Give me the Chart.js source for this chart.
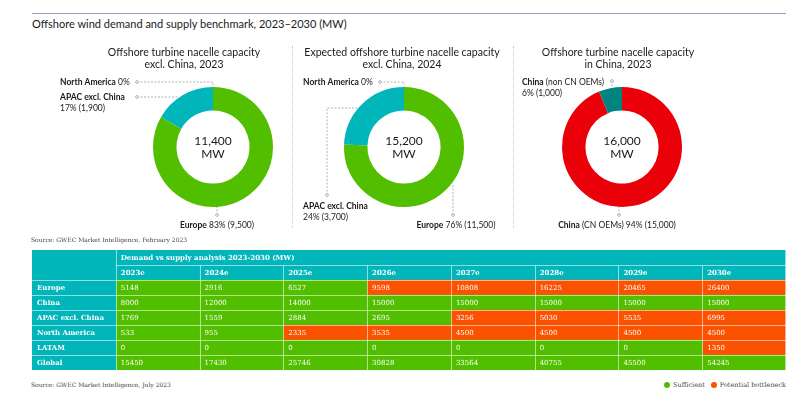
<!DOCTYPE html>
<html>
<head>
<meta charset="utf-8">
<script src="https://cdn.jsdelivr.net/npm/chart.js@4.4.1/dist/chart.umd.min.js"></script>
<style>
  body { margin: 0; width: 806px; height: 409px; background: #fff; position: relative; overflow: hidden; font-family: Lato, sans-serif; color: #1a1a1a; }
  .abs { position: absolute; }
  #topline { left: 32px; top: 13px; width: 754px; height: 1px; background: #8ea3b5; }
  #title { left: 32px; top: 17px; font-size: 11px; white-space: nowrap; }
  .sep { top: 46px; height: 182px; width: 0; border-left: 1px dotted #c9c9c9; }
  .src { font-family: 'DejaVu Serif', serif; font-size: 6px; color: #444; white-space: nowrap; }
  #legend { right: 20px; top: 381px; font-size: 6.5px; }
  #legend span.dot { display: inline-block; width: 6px; height: 6px; border-radius: 50%; margin: 0 3px 0 6px; vertical-align: -0.5px; }
  canvas { position: absolute; }
</style>
</head>
<body>
<div id="topline" class="abs"></div>
<div id="title" class="abs">Offshore wind demand and supply benchmark, 2023–2030 (MW)</div>
<div class="abs sep" style="left:292px"></div>
<div class="abs sep" style="left:513px"></div>

<canvas id="pie1" width="806" height="240" style="left:0;top:0"></canvas>
<canvas id="pie2" width="806" height="240" style="left:0;top:0"></canvas>
<canvas id="pie3" width="806" height="240" style="left:0;top:0"></canvas>

<div class="abs src" style="left:31px;top:236px">Source: GWEC Market Intelligence, February 2023</div>

<canvas id="table" width="754" height="120" style="left:32px;top:250px"></canvas>

<div class="abs src" style="left:31px;top:381px">Source: GWEC Market Intelligence, July 2023</div>
<div id="legend" class="abs src"><span class="dot" style="background:#52be00"></span>Sufficient<span class="dot" style="background:#fa5200"></span>Potential bottleneck</div>

<script>
// doughnut data
const exclChinaRegions = ['Europe', 'APAC excl. China', 'North America'];
const capacity2023 = [9500, 1900, 0];
const capacity2024 = [11500, 3700, 0];
const chinaOems = ['China (CN OEMs)', 'China (non CN OEMs)'];
const chinaCapacity2023 = [15000, 1000];

// table data
const tableYears = ['2023e', '2024e', '2025e', '2026e', '2027e', '2028e', '2029e', '2030e'];
const tableRegions = ['Europe', 'China', 'APAC excl. China', 'North America', 'LATAM', 'Global'];
const europeMW = [5148, 2916, 6527, 9598, 10808, 16225, 20465, 26400];
const chinaMW = [8000, 12000, 14000, 15000, 15000, 15000, 15000, 15000];
const apacMW = [1769, 1559, 2884, 2695, 3256, 5030, 5535, 6995];
const northAmericaMW = [533, 955, 2335, 3535, 4500, 4500, 4500, 4500];
const latamMW = [0, 0, 0, 0, 0, 0, 0, 1350];
const globalMW = [15450, 17430, 25746, 30828, 33564, 40755, 45500, 54245];
// S = sufficient, B = potential bottleneck
const europeStatus = ['S', 'S', 'S', 'B', 'B', 'B', 'B', 'B'];
const chinaStatus = ['S', 'S', 'S', 'S', 'S', 'S', 'S', 'S'];
const apacStatus = ['S', 'S', 'S', 'S', 'B', 'B', 'B', 'B'];
const northAmericaStatus = ['S', 'S', 'B', 'B', 'B', 'B', 'B', 'B'];
const latamStatus = ['S', 'S', 'S', 'S', 'S', 'S', 'S', 'B'];
const globalStatus = ['S', 'S', 'S', 'S', 'S', 'S', 'S', 'S'];

const GREEN = '#52be00', TEAL = '#00b6ba', ORANGE = '#fa5200', RED = '#ea0008', DARKTEAL = '#00847f';

const fmt = n => n.toLocaleString('en-US');

// draws a line of [text, bold] pieces
function drawPieces(ctx, pieces, x, y, align) {
  const fontFor = b => (b ? 'bold ' : '') + '8.5px Lato';
  let w = 0;
  pieces.forEach(p => { ctx.font = fontFor(p[1]); w += ctx.measureText(p[0]).width; });
  let cx = align === 'center' ? x - w / 2 : x;
  ctx.textAlign = 'left';
  pieces.forEach(p => {
    ctx.font = fontFor(p[1]);
    ctx.fillText(p[0], cx, y);
    cx += ctx.measureText(p[0]).width;
  });
}

const calloutPlugin = {
  id: 'callouts',
  afterDraw(chart, args, opts) {
    const ctx = chart.ctx;
    const arc = chart.getDatasetMeta(0).data[0];
    const values = chart.data.datasets[0].data;
    const names = chart.data.labels;
    const total = values.reduce((a, b) => a + b, 0);
    ctx.save();
    ctx.fillStyle = '#1a1a1a';
    ctx.textBaseline = 'middle';
    ctx.textAlign = 'center';
    ctx.font = '12px Lato';
    ctx.fillText(fmt(total), arc.x, arc.y - 6);
    ctx.fillText('MW', arc.x, arc.y + 7);
    ctx.font = '10.5px Lato';
    opts.title.forEach((t, i) => ctx.fillText(t, opts.titleX, 53 + i * 12));

    opts.items.forEach(it => {
      const v = values[it.index];
      const pct = Math.round(v / total * 100) + '%';
      const valText = v ? pct + ' (' + fmt(v) + ')' : pct;
      let lines;
      if (it.split) lines = [[[names[it.index], true]], [[valText, false]]];
      else if (it.boldWord) {
        const rest = names[it.index].slice(it.boldWord.length);
        lines = it.twoLine
          ? [[[it.boldWord, true], [rest, false]], [[valText, false]]]
          : [[[it.boldWord, true], [rest + ' ' + valText, false]]];
      } else lines = [[[names[it.index], true], [' ' + valText, false]]];
      ctx.fillStyle = '#1a1a1a';
      lines.forEach((ln, i) => drawPieces(ctx, ln, it.x, it.y + i * 11, it.align));

      ctx.strokeStyle = '#a0a0a0';
      ctx.lineWidth = 0.8;
      ctx.setLineDash([2, 1.5]);
      ctx.beginPath();
      it.path.forEach(([x, y], k) => k ? ctx.lineTo(x, y) : ctx.moveTo(x, y));
      ctx.stroke();
      ctx.setLineDash([]);
      ctx.beginPath();
      ctx.arc(it.path[0][0], it.path[0][1], 1.4, 0, Math.PI * 2);
      ctx.fillStyle = '#fff';
      ctx.fill();
      ctx.stroke();
    });
    ctx.restore();
  }
};

function makeDoughnut(id, labels, values, colors, cx, callouts) {
  const r = 60;
  return new Chart(document.getElementById(id), {
    type: 'doughnut',
    data: { labels: labels, datasets: [{ data: values, backgroundColor: colors, borderWidth: 0 }] },
    options: {
      responsive: false,
      animation: false,
      cutout: '61%',
      layout: { padding: { left: cx - r, right: 806 - cx - r, top: 147 - r, bottom: 240 - 147 - r } },
      plugins: { legend: { display: false }, tooltip: { enabled: false }, callouts: callouts }
    },
    plugins: [calloutPlugin]
  });
}

makeDoughnut('pie1', exclChinaRegions, capacity2023, [GREEN, TEAL, '#7a7a7a'], 213, {
  title: ['Offshore turbine nacelle capacity', 'excl. China, 2023'], titleX: 184,
  items: [
    { index: 2, x: 60, y: 82, align: 'left', path: [[137, 82], [213, 82], [213, 87]] },
    { index: 1, x: 60, y: 97, align: 'left', split: true, path: [[137, 97], [178, 97]] },
    { index: 0, x: 217, y: 225, align: 'center', path: [[217, 215], [217, 207]] }
  ]
});

makeDoughnut('pie2', exclChinaRegions, capacity2024, [GREEN, TEAL, '#7a7a7a'], 404, {
  title: ['Expected offshore turbine nacelle capacity', 'excl. China, 2024'], titleX: 402,
  items: [
    { index: 2, x: 303, y: 82, align: 'left', path: [[380, 82], [404, 82], [404, 87]] },
    { index: 1, x: 303, y: 206, align: 'left', split: true, path: [[327, 195], [327, 108], [358, 108]] },
    { index: 0, x: 456, y: 225, align: 'center', path: [[453, 215], [453, 183]] }
  ]
});

makeDoughnut('pie3', chinaOems, chinaCapacity2023, [RED, DARKTEAL], 622, {
  title: ['Offshore turbine nacelle capacity', 'in China, 2023'], titleX: 618,
  items: [
    { index: 1, x: 522, y: 82, align: 'left', boldWord: 'China', twoLine: true, path: [[612, 81], [612, 87]] },
    { index: 0, x: 617, y: 225, align: 'center', boldWord: 'China', path: [[619, 215], [619, 207]] }
  ]
});

// ---- table drawn as floating bars on a column / row grid ----
const rowValues = [europeMW, chinaMW, apacMW, northAmericaMW, latamMW, globalMW];
const rowStatus = [europeStatus, chinaStatus, apacStatus, northAmericaStatus, latamStatus, globalStatus];
const rowKeys = ['head', 'years'].concat(tableRegions);
const nCols = tableYears.length + 1;

const tableDatasets = [
  { data: rowKeys.map(() => [0, 1]), backgroundColor: TEAL },
  { data: rowKeys.map((k, i) => i === 0 ? [1, nCols] : null), backgroundColor: TEAL }
];
tableYears.forEach((yr, c) => {
  tableDatasets.push({
    data: rowKeys.map((k, i) => i === 0 ? null : [c + 1, c + 2]),
    backgroundColor: rowKeys.map((k, i) => i < 2 ? TEAL : (rowStatus[i - 2][c] === 'B' ? ORANGE : GREEN))
  });
});

const cellPlugin = {
  id: 'cells',
  afterDatasetsDraw(chart) {
    const ctx = chart.ctx;
    const xs = chart.scales.x, ys = chart.scales.y;
    const rowY = i => ys.getPixelForValue(i);
    const edge = i => i === 0 ? chart.chartArea.top : (i === rowKeys.length ? chart.chartArea.bottom : (rowY(i - 1) + rowY(i)) / 2);
    ctx.save();
    // cell borders
    ctx.strokeStyle = 'rgba(255,255,255,0.55)';
    ctx.lineWidth = 1;
    ctx.beginPath();
    for (let i = 1; i < rowKeys.length; i++) {
      const y = Math.round(edge(i)) + 0.5;
      ctx.moveTo(xs.getPixelForValue(i === 1 ? 1 : 0), y);
      ctx.lineTo(xs.getPixelForValue(nCols), y);
    }
    for (let c = 1; c < nCols; c++) {
      const x = Math.round(xs.getPixelForValue(c)) + 0.5;
      ctx.moveTo(x, c === 1 ? edge(0) : edge(1));
      ctx.lineTo(x, edge(rowKeys.length));
    }
    const xr = Math.round(xs.getPixelForValue(nCols)) - 0.5;
    ctx.moveTo(xr, edge(0)); ctx.lineTo(xr, edge(rowKeys.length));
    ctx.stroke();

    // cell text
    ctx.fillStyle = '#fff';
    ctx.textBaseline = 'middle';
    ctx.textAlign = 'left';
    const tx = c => xs.getPixelForValue(c) + 5;
    ctx.font = 'bold 7px "DejaVu Serif"';
    ctx.fillText('Demand vs supply analysis 2023-2030 (MW)', tx(1), rowY(0) + 0.5);
    tableYears.forEach((yr, c) => ctx.fillText(yr, tx(c + 1), rowY(1) + 0.5));
    tableRegions.forEach((name, r) => ctx.fillText(name, tx(0), rowY(r + 2) + 0.5));
    ctx.font = '7px "DejaVu Serif"';
    rowValues.forEach((vals, r) => vals.forEach((v, c) => ctx.fillText(String(v), tx(c + 1), rowY(r + 2) + 0.5)));
    ctx.restore();
  }
};

new Chart(document.getElementById('table'), {
  type: 'bar',
  data: { labels: rowKeys, datasets: tableDatasets },
  options: {
    indexAxis: 'y',
    responsive: false,
    animation: false,
    datasets: { bar: { barPercentage: 1, categoryPercentage: 1, grouped: false, borderWidth: 0 } },
    layout: { padding: 0 },
    scales: {
      x: { type: 'linear', min: 0, max: nCols, display: false },
      y: { display: false }
    },
    plugins: { legend: { display: false }, tooltip: { enabled: false } }
  },
  plugins: [cellPlugin]
});
</script>
</body>
</html>
